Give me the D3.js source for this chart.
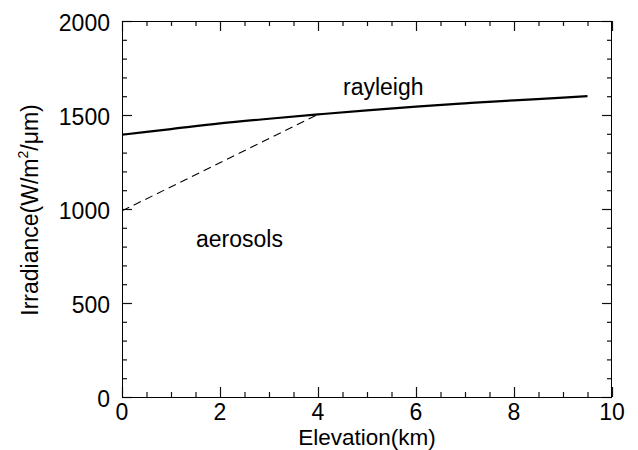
<!DOCTYPE html>
<html><head><meta charset="utf-8">
<script src="https://cdn.jsdelivr.net/npm/d3@7"></script>
<style>
html,body{margin:0;padding:0;background:#fff;}
text{font-family:"Liberation Sans",Arial,Helvetica,sans-serif;fill:#000;}
</style></head>
<body>
<svg id="c" width="638" height="450"></svg>
<script>
const rayleighX = [0, 1, 2, 3, 4, 5, 6, 7, 8, 9, 9.5];
const rayleighY = [1395, 1425, 1455, 1480, 1503, 1525, 1545, 1562, 1578, 1592, 1600];
const aerosolX = [0, 4];
const aerosolY = [990, 1503];
const xTicks = [0, 2, 4, 6, 8, 10];
const yTicks = [0, 500, 1000, 1500, 2000];
const xMinor = [0.5, 1, 1.5, 2.5, 3, 3.5, 4.5, 5, 5.5, 6.5, 7, 7.5, 8.5, 9, 9.5];
const yMinor = [100, 200, 300, 400, 600, 700, 800, 900, 1100, 1200, 1300, 1400, 1600, 1700, 1800, 1900];

const svg = d3.select("#c");
const L = 122, R = 612, T = 21, B = 397;
const x = d3.scaleLinear().domain([0, 10]).range([L, R]);
const y = d3.scaleLinear().domain([0, 2000]).range([B, T]);
const fs = 23;

function addAxis(axis, tx, ty) {
  const a = svg.append("g").attr("transform", `translate(${tx},${ty})`).call(axis);
  a.select(".domain").remove();
  a.selectAll(".tick line").attr("stroke", "#111").attr("stroke-width", 1.2);
  return a;
}
// inward ticks on all four sides
addAxis(d3.axisBottom(x).tickValues(xMinor).tickSize(-5).tickFormat(""), 0, B);
addAxis(d3.axisBottom(x).tickValues(xTicks).tickSize(-10).tickFormat(""), 0, B);
addAxis(d3.axisTop(x).tickValues(xMinor).tickSize(-5).tickFormat(""), 0, T);
addAxis(d3.axisTop(x).tickValues(xTicks).tickSize(-10).tickFormat(""), 0, T);
addAxis(d3.axisLeft(y).tickValues(yMinor).tickSize(-5).tickFormat(""), L, 0);
addAxis(d3.axisLeft(y).tickValues(yTicks).tickSize(-10).tickFormat(""), L, 0);
addAxis(d3.axisRight(y).tickValues(yMinor).tickSize(-5).tickFormat(""), R, 0);
addAxis(d3.axisRight(y).tickValues(yTicks).tickSize(-10).tickFormat(""), R, 0);

const g = svg.append("g");
// frame
g.append("rect").attr("x", L + 0.5).attr("y", T + 0.5).attr("width", R - L - 1).attr("height", B - T)
  .attr("fill", "none").attr("stroke", "#000").attr("stroke-width", 1);

// tick labels
xTicks.forEach(v => {
  g.append("text").attr("x", x(v)).attr("y", 419.5).attr("text-anchor", "middle").attr("font-size", fs).text(v);
});
yTicks.forEach(v => {
  g.append("text").attr("x", 110).attr("y", y(v) + 10).attr("text-anchor", "end").attr("font-size", fs).text(v);
});

// axis titles
g.append("text").attr("x", 367).attr("y", 445).attr("text-anchor", "middle").attr("font-size", 22.5).text("Elevation(km)");
const yt = g.append("text").attr("transform", "translate(38,210) rotate(-90)").attr("text-anchor", "middle").attr("font-size", fs);
yt.append("tspan").text("Irradiance(W/m");
yt.append("tspan").attr("dy", -10).attr("font-size", 14).text("2");
yt.append("tspan").attr("dy", 10).text("/\u03bcm)");

// lines
const line = d3.line().x(d => x(d[0])).y(d => y(d[1])).curve(d3.curveMonotoneX);
g.append("path").datum(rayleighX.map((v, i) => [v, rayleighY[i]]))
  .attr("d", line).attr("fill", "none").attr("stroke", "#000").attr("stroke-width", 2.2);
g.append("path").datum(aerosolX.map((v, i) => [v, aerosolY[i]]))
  .attr("d", d3.line().x(d => x(d[0])).y(d => y(d[1]))).attr("fill", "none").attr("stroke", "#000")
  .attr("stroke-width", 1.1).attr("stroke-dasharray", "8,5");

// annotations
g.append("text").attr("x", 343).attr("y", 95).attr("font-size", fs).text("rayleigh");
g.append("text").attr("x", 196).attr("y", 247).attr("font-size", fs).text("aerosols");
</script>
</body></html>
